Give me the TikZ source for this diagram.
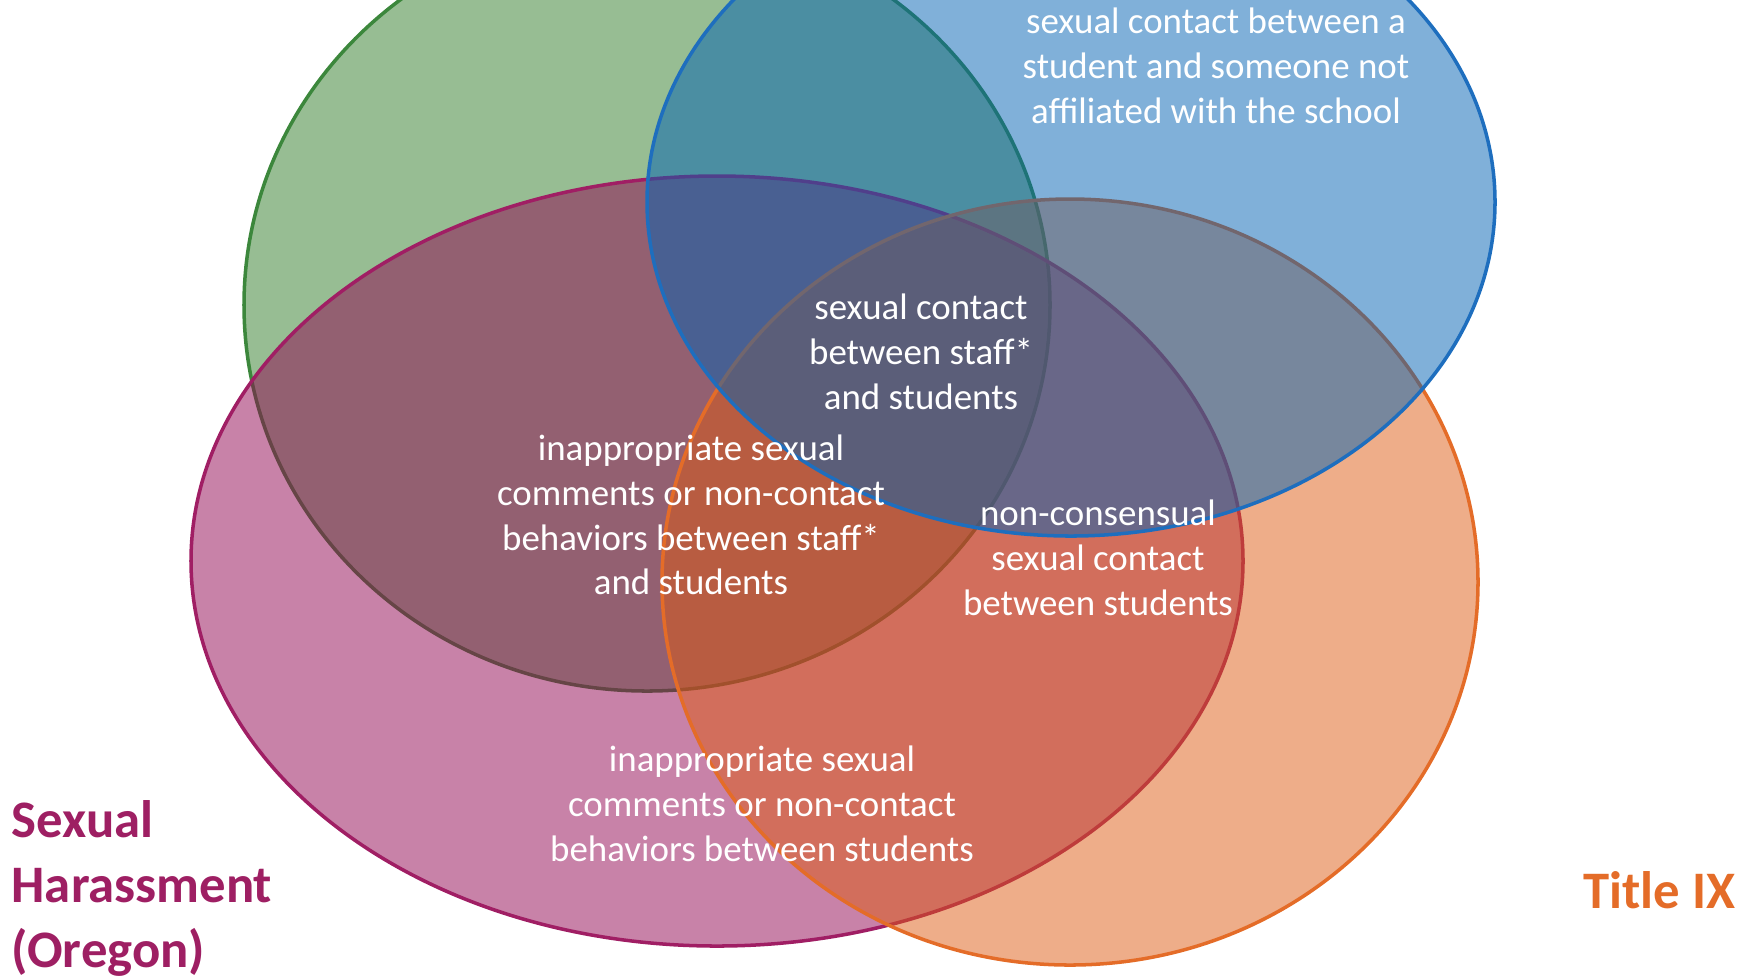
\documentclass[tikz,border=0pt]{standalone}
\usepackage{fontspec}
\setmainfont{Carlito}
\usepackage{tikz}
\usetikzlibrary{positioning}

\definecolor{grnfill}{RGB}{47,123,39}
\definecolor{grnline}{RGB}{60,135,60}
\definecolor{bluefill}{RGB}{1,97,179}
\definecolor{blueline}{RGB}{30,110,190}
\definecolor{pinkfill}{RGB}{145,5,81}
\definecolor{pinkline}{RGB}{160,30,100}
\definecolor{orngfill}{RGB}{221,91,19}
\definecolor{orngline}{RGB}{228,108,40}
\definecolor{harasstext}{RGB}{158,31,99}
\definecolor{titletext}{RGB}{228,108,40}

\newcommand{\venntext}{\fontsize{10.5}{12.75}\selectfont}
\newcommand{\keytext}{\fontsize{15}{18.5}\selectfont\bfseries}

\begin{document}
\begin{tikzpicture}[x=1mm,y=-1mm,
	set/.style={line width=1pt, fill opacity=0.5},
	region/.style={text=white, align=center, inner sep=0pt, font=\venntext},
	key/.style={inner sep=0pt, font=\keytext}]
	\useasboundingbox (0,0) rectangle (175.6,97.5);
	\clip (0,0) rectangle (175.6,97.5);
	
	\coordinate (cgreen) at (64.7,30.5);
	\coordinate (cpink) at (71.7,56.1);
	\coordinate (corange) at (107.0,58.2);
	\coordinate (cblue) at (107.1,20.2);
	
	\draw[set, draw=grnline, fill=grnfill] (cgreen) ellipse [x radius=40.3, y radius=38.6];
	\draw[set, draw=pinkline, fill=pinkfill] (cpink) ellipse [x radius=52.6, y radius=38.5];
	\draw[set, draw=orngline, fill=orngfill] (corange) ellipse [x radius=40.8, y radius=38.3];
	\draw[set, draw=blueline, fill=bluefill] (cblue) ellipse [x radius=42.4, y radius=33.4];
	
	\node[region] (outside) at (121.6,6.6) {sexual contact between a\\student and someone not\\affiliated with the school};
	\node[region] (staffcontact) at (92.1,35.2) {sexual contact\\between staff*\\and students};
	\node[region] (staffcomments) at (69.1,51.5) {inappropriate sexual\\comments or non-contact\\behaviors between staff*\\and students};
	\node[region] (nonconsent) at (109.8,55.8) {non-consensual\\sexual contact\\between students};
	\node[region] (studentcomments) at (76.2,80.4) {inappropriate sexual\\comments or non-contact\\behaviors between students};
	
	\node[key, text=harasstext, align=left, anchor=west] (harass) at (1.1,88.8) {Sexual\\Harassment\\(Oregon)};
	\node[key, text=titletext, anchor=east] (titleix) at (173.6,89.0) {Title IX};
\end{tikzpicture}
\end{document}
